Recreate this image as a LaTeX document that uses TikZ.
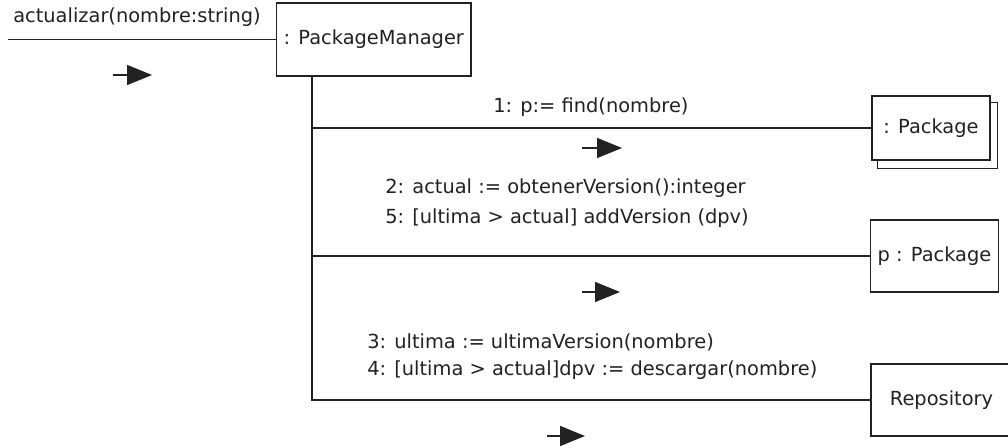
\documentclass[tikz,border=0pt]{standalone}
\usepackage{fontspec}
\setmainfont{DejaVu Sans}
\usetikzlibrary{arrows.meta,calc,positioning}
\definecolor{ink}{HTML}{222222}
\tikzset{
  object/.style={
    draw=ink,
    line width=1pt,
    fill=white,
    text=ink,
    inner xsep=0.175cm,
    inner ysep=0pt,
    font=\fontsize{13.8}{16}\selectfont
  },
  message/.style={
    text=ink,
    anchor=west,
    inner sep=0pt,
    font=\fontsize{13.8}{16}\selectfont
  },
  link/.style={
    draw=ink,
    line width=1pt
  },
  direction/.style={
    -{Triangle[length=0.625cm,width=0.5cm]},
    draw=ink,
    line width=1pt
  }
}

\begin{document}
\begin{tikzpicture}[x=1cm,y=1cm]
  \fill[white] (0,0) rectangle (25.2,11.2);
  \useasboundingbox (0,0) rectangle (25.2,11.2);

  % Objects
  \node[object, anchor=west, minimum height=1.825cm] (manager) at (6.9,10.2125)
    {: PackageManager};

  \node[object, minimum width=2.95cm, minimum height=1.6cm] (packages) at (23.275,8.0)
    {: Package};
  \draw[link] ([xshift=0.15cm]packages.south west) -- ++(0,-0.2)
    -| ([xshift=0.175cm,yshift=-0.175cm]packages.north east) -- ++(-0.175,0);

  \node[object, minimum width=3.125cm, minimum height=1.8cm] (package) at (23.3625,4.8)
    {p : Package};

  \node[object, minimum width=3.525cm, minimum height=1.8cm] (repository) at (23.5375,1.2)
    {Repository};

  % Links
  \coordinate (caller) at (0.2,10.2125);
  \coordinate (lifeTop) at ([xshift=0.9cm]manager.south west);

  \draw[link] (caller) -- (manager.west);
  \draw[link] (lifeTop) |- (repository.west);
  \draw[link] (lifeTop |- packages.west) -- (packages.west);
  \draw[link] (lifeTop |- package.west) -- (package.west);

  % Messages
  \node[message] (callLabel) at (0.325,10.7625) {actualizar(nombre:string)};
  \node[message] (findLabel) at (12.325,8.525) {1: p:= find(nombre)};
  \node[message] (versionLabel) at (9.625,6.5) {2: actual := obtenerVersion():integer};
  \node[message] (addLabel) at (9.625,5.75) {5: [ultima > actual] addVersion (dpv)};
  \node[message] (latestLabel) at (9.175,2.65) {3: ultima := ultimaVersion(nombre)};
  \node[message] (downloadLabel) at (9.175,1.95) {4: [ultima > actual]dpv := descargar(nombre)};

  % Direction markers
  \draw[direction] (2.825,9.325) -- ++(0.975,0);
  \draw[direction] (14.55,7.5) -- ++(1.0,0);
  \draw[direction] (14.55,3.9) -- ++(0.95,0);
  \draw[direction] (13.675,0.3) -- ++(0.95,0);
\end{tikzpicture}
\end{document}
